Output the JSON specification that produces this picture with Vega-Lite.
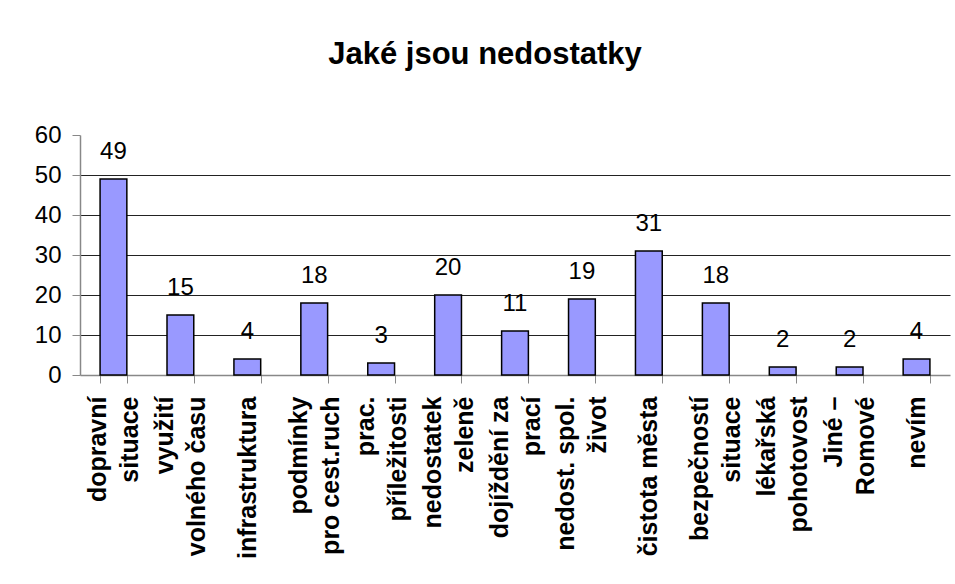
{
  "$schema": "https://vega.github.io/schema/vega-lite/v6.json",
  "width": 870,
  "height": 240,
  "autosize": "none",
  "padding": {"left": 80, "top": 135, "right": 5, "bottom": 209},
  "background": "white",
  "title": {
    "text": "Jaké jsou nedostatky",
    "font": "Liberation Sans",
    "fontSize": 31,
    "fontWeight": "bold",
    "color": "black",
    "anchor": "middle",
    "frame": "group",
    "offset": 52,
    "dx": -30
  },
  "data": {
    "values": [
      {"kategorie": "dopravní|situace", "pocet": 49},
      {"kategorie": "využití|volného času", "pocet": 15},
      {"kategorie": "infrastruktura", "pocet": 4},
      {"kategorie": "podmínky|pro cest.ruch", "pocet": 18},
      {"kategorie": "prac.|příležitosti", "pocet": 3},
      {"kategorie": "nedostatek|zeleně", "pocet": 20},
      {"kategorie": "dojíždění za|prací", "pocet": 11},
      {"kategorie": "nedost. spol.|život", "pocet": 19},
      {"kategorie": "čistota města", "pocet": 31},
      {"kategorie": "bezpečností|situace", "pocet": 18},
      {"kategorie": "lékařská|pohotovost", "pocet": 2},
      {"kategorie": "Jiné –|Romové", "pocet": 2},
      {"kategorie": "nevím", "pocet": 4}
    ]
  },
  "encoding": {
    "x": {
      "field": "kategorie",
      "type": "nominal",
      "sort": null,
      "scale": {"paddingInner": 0.6, "paddingOuter": 0.3},
      "axis": {
        "title": null,
        "labelAngle": -90,
        "labelAlign": "right",
        "labelBaseline": "middle",
        "labelFont": "Liberation Sans",
        "labelFontSize": 25,
        "labelFontWeight": "bold",
        "labelColor": "black",
        "labelLineHeight": 32,
        "labelExpr": "split(datum.label, '|')",
        "labelOffset": {"condition": {"test": "length(split('' + datum.value, '|')) > 1", "value": -16}, "value": 0},
        "labelLimit": 300,
        "labelOverlap": false,
        "labelBound": false,
        "labelPadding": 13,
        "tickBand": "extent",
        "tickSize": 8,
        "tickColor": "#888888",
        "domainColor": "#888888",
        "domainWidth": 1.5,
        "grid": false
      }
    },
    "y": {
      "field": "pocet",
      "type": "quantitative",
      "scale": {"domain": [0, 60], "nice": false},
      "axis": {
        "title": null,
        "values": [0, 10, 20, 30, 40, 50, 60],
        "labelFont": "Liberation Sans",
        "labelFontSize": 24,
        "labelColor": "black",
        "labelPadding": 11,
        "tickSize": 8,
        "tickColor": "#888888",
        "domainColor": "#888888",
        "domainWidth": 1.5,
        "grid": true,
        "gridColor": "#222222",
        "gridWidth": 1,
        "gridOpacity": {"condition": {"test": "datum.value == 60 || datum.value == 0", "value": 0}, "value": 1}
      }
    }
  },
  "layer": [
    {"mark": {"type": "bar", "fill": "#9999FF", "stroke": "black", "strokeWidth": 1.5}},
    {
      "mark": {"type": "text", "baseline": "alphabetic", "dy": -20, "font": "Liberation Sans", "fontSize": 24, "color": "black"},
      "encoding": {"text": {"field": "pocet", "type": "quantitative"}}
    }
  ],
  "config": {"view": {"stroke": null}}
}
